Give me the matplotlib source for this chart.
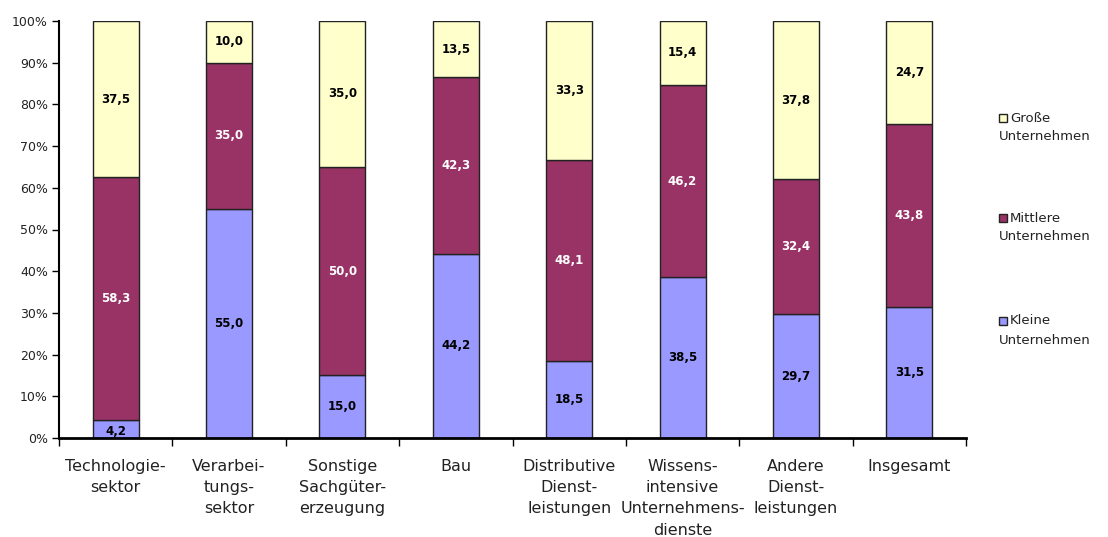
import matplotlib
matplotlib.use("Agg")
import matplotlib.pyplot as plt
import numpy as np

plt.rcParams['font.family'] = ['DejaVu Sans']

categories = ["Technologie-\nsektor", "Verarbei-\ntungs-\nsektor", "Sonstige\nSachgüter-\nerzeugung",
              "Bau", "Distributive\nDienst-\nleistungen", "Wissens-\nintensive\nUnternehmens-\ndienste",
              "Andere\nDienst-\nleistungen", "Insgesamt"]
kleine = [4.2, 55.0, 15.0, 44.2, 18.5, 38.5, 29.7, 31.5]
mittlere = [58.3, 35.0, 50.0, 42.3, 48.1, 46.2, 32.4, 43.8]
grosse = [37.5, 10.0, 35.0, 13.5, 33.3, 15.4, 37.8, 24.7]
series_first = ["Große", "Mittlere", "Kleine"]
series_second = "Unternehmen"
yticks = [0, 10, 20, 30, 40, 50, 60, 70, 80, 90, 100]

col_k, col_m, col_g = "#9999FF", "#993366", "#FFFFCC"

W, H = 1108, 537
fig = plt.figure(figsize=(W / 100, H / 100), dpi=100)
ax = fig.add_axes([59 / W, 1 - 438 / H, (966 - 59) / W, (438 - 21) / H])

x = np.arange(len(categories))
w = 0.405
kw = dict(width=w, edgecolor="#222222", linewidth=1.0)
ax.bar(x, kleine, color=col_k, **kw)
ax.bar(x, mittlere, bottom=kleine, color=col_m, **kw)
ax.bar(x, grosse, bottom=np.array(kleine) + np.array(mittlere), color=col_g, **kw)

fmt = lambda v: f"{v:.1f}".replace(".", ",")
lab = dict(ha="center", va="center", fontsize=8.5, fontweight="bold")
for i in range(len(categories)):
    k, m, g = kleine[i], mittlere[i], grosse[i]
    yk = k / 2 if k > 6 else k / 2 - 0.5
    ax.text(x[i], yk, fmt(k), color="black", **lab)
    ax.text(x[i], k + m / 2, fmt(m), color="white", **lab)
    ax.text(x[i], k + m + g / 2, fmt(g), color="black", **lab)

ax.set_xlim(-0.5, len(categories) - 0.5)
ax.set_ylim(0, 100)
ax.set_yticks(yticks)
ax.set_yticklabels([f"{t}%" for t in yticks], fontsize=9, color="#222222")
ax.set_xticks(x)
ax.set_xticklabels(categories, fontsize=11.5, linespacing=1.52, color="#222222")
ax.tick_params(axis="x", length=0, pad=15)
ax.set_xticks(np.arange(len(categories) + 1) - 0.5, minor=True)
ax.tick_params(axis="x", which="minor", length=6, width=1.0, direction="out")
ax.tick_params(axis="y", length=5, width=1.0, direction="out", pad=3)
for s in ["top", "right"]:
    ax.spines[s].set_visible(False)
ax.spines["left"].set_linewidth(1.5)
ax.spines["bottom"].set_linewidth(2.0)

# legend entries: square + first word, second word on the next line
leg_cols = [col_g, col_m, col_k]
leg_y = [118, 218, 321]
for c, name, yy in zip(leg_cols, series_first, leg_y):
    fig.patches.append(plt.Rectangle((999 / W, 1 - (yy + 4) / H), 8 / W, 8 / H,
                                     transform=fig.transFigure, facecolor=c,
                                     edgecolor="#222222", linewidth=1.0))
    fig.text(1010 / W, 1 - yy / H, name, ha="left", va="center", fontsize=9.5, color="#222222")
    fig.text(999 / W, 1 - (yy + 19) / H, series_second, ha="left", va="center", fontsize=9.5,
             color="#222222")

fig.savefig("out.png", dpi=100)
